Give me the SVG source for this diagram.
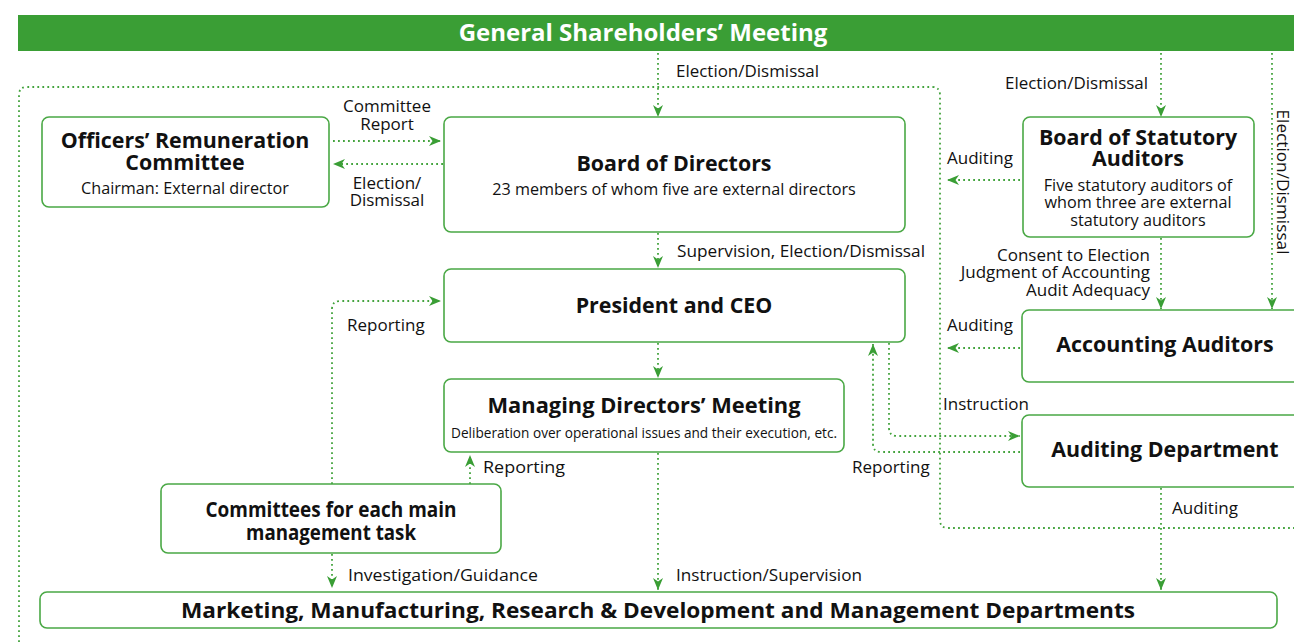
<svg xmlns="http://www.w3.org/2000/svg" width="1294" height="642" viewBox="0 0 1294 642">
<style>
.box{fill:#fff;stroke:#4aa845;stroke-width:1.6}
.dot{fill:none;stroke:#43a33d;stroke-width:1.8;stroke-dasharray:1.8 3.2}
.t{font-family:"Open Sans","DejaVu Sans",sans-serif;fill:#111}
.lb{font-size:17px}
.ti{font-size:21.4px;font-weight:bold}
.sub{font-size:16.2px;font-weight:normal}
.c{text-anchor:middle}
.e{text-anchor:end}
</style>
<defs>
<marker id="ah" viewBox="0 0 12 10" refX="12" refY="5" markerWidth="12" markerHeight="10" markerUnits="userSpaceOnUse" orient="auto">
<path d="M0,0 L12,5 L0,10 L3.5,5 Z" fill="#3a9e35"/>
</marker>
</defs>
<rect x="18" y="15" width="1276" height="36" fill="#3a9e35"/>
<text class="t c" x="643" y="41" style="font-size:24px;font-weight:bold;fill:#fff">General Shareholders’ Meeting</text>
<g id="connectors">
<path class="dot" d="M19,642 V95 Q19,87 27,87 H932 Q940,87 940,95 V520 Q940,528 948,528 H1294"/>
<path class="dot" d="M658,53 V117" marker-end="url(#ah)"/>
<path class="dot" d="M1161,53 V117" marker-end="url(#ah)"/>
<path class="dot" d="M1272,53 V309" marker-end="url(#ah)"/>
<path class="dot" d="M333,141 H441" marker-end="url(#ah)"/>
<path class="dot" d="M443,164 H333" marker-end="url(#ah)"/>
<path class="dot" d="M1020,180 H947" marker-end="url(#ah)"/>
<path class="dot" d="M658,233 V268" marker-end="url(#ah)"/>
<path class="dot" d="M1161,238 V309" marker-end="url(#ah)"/>
<path class="dot" d="M332,484 V309 Q332,301 340,301 H441" marker-end="url(#ah)"/>
<path class="dot" d="M1020,348 H947" marker-end="url(#ah)"/>
<path class="dot" d="M658,343 V378" marker-end="url(#ah)"/>
<path class="dot" d="M889,343 V428 Q889,436 897,436 H1020" marker-end="url(#ah)"/>
<path class="dot" d="M1020,452 H881 Q873,452 873,444 V344" marker-end="url(#ah)"/>
<path class="dot" d="M470,484 V455" marker-end="url(#ah)"/>
<path class="dot" d="M332,554 V588" marker-end="url(#ah)"/>
<path class="dot" d="M658,453 V590" marker-end="url(#ah)"/>
<path class="dot" d="M1161,488 V590" marker-end="url(#ah)"/>
</g>
<g id="labels">
<text class="t lb" x="676" y="77" textLength="143" lengthAdjust="spacingAndGlyphs">Election/Dismissal</text>
<text class="t lb e" x="1148" y="89" textLength="143" lengthAdjust="spacingAndGlyphs">Election/Dismissal</text>
<text class="t" transform="translate(1277,182) rotate(90)" text-anchor="middle" style="font-size:16.3px" textLength="145" lengthAdjust="spacingAndGlyphs">Election/Dismissal</text>
<text class="t lb c"><tspan x="387" y="112">Committee</tspan><tspan x="387" y="130">Report</tspan></text>
<text class="t lb c"><tspan x="387" y="189">Election/</tspan><tspan x="387" y="206">Dismissal</tspan></text>
<text class="t lb" x="947" y="164">Auditing</text>
<text class="t lb" x="677" y="257" textLength="248" lengthAdjust="spacingAndGlyphs">Supervision, Election/Dismissal</text>
<text class="t lb e"><tspan x="1150" y="261">Consent to Election</tspan><tspan x="1150" y="278">Judgment of Accounting</tspan><tspan x="1150" y="296">Audit Adequacy</tspan></text>
<text class="t lb" x="347" y="331">Reporting</text>
<text class="t lb" x="947" y="331">Auditing</text>
<text class="t lb" x="943" y="410">Instruction</text>
<text class="t lb" x="483" y="473" textLength="82" lengthAdjust="spacingAndGlyphs">Reporting</text>
<text class="t lb" x="852" y="473">Reporting</text>
<text class="t lb" x="1172" y="514">Auditing</text>
<text class="t lb" x="348" y="581" textLength="190" lengthAdjust="spacingAndGlyphs">Investigation/Guidance</text>
<text class="t lb" x="676" y="581" textLength="186" lengthAdjust="spacingAndGlyphs">Instruction/Supervision</text>
</g>
<g id="officers">
<rect class="box" x="42" y="117" width="287" height="90" rx="7"/>
<text class="t ti c"><tspan x="185" y="148">Officers’ Remuneration</tspan><tspan x="185" y="170">Committee</tspan><tspan class="sub" x="185" y="194">Chairman: External director</tspan></text>
</g>
<g id="board">
<rect class="box" x="444" y="117" width="461" height="115" rx="7"/>
<text class="t ti c"><tspan x="674" y="171">Board of Directors</tspan><tspan class="sub" x="674" y="195">23 members of whom five are external directors</tspan></text>
</g>
<g id="statutory">
<rect class="box" x="1023" y="117" width="231" height="120" rx="7"/>
<text class="t ti c"><tspan x="1138" y="145">Board of Statutory</tspan><tspan x="1138" y="166">Auditors</tspan><tspan class="sub" x="1138" y="191">Five statutory auditors of</tspan><tspan class="sub" x="1138" y="208">whom three are external</tspan><tspan class="sub" x="1138" y="226">statutory auditors</tspan></text>
</g>
<g id="president">
<rect class="box" x="444" y="269" width="461" height="73" rx="7"/>
<text class="t ti c" x="674" y="313">President and CEO</text>
</g>
<g id="accounting">
<rect class="box" x="1022" y="310" width="300" height="72" rx="7"/>
<text class="t ti c" x="1165" y="352">Accounting Auditors</text>
</g>
<g id="managing">
<rect class="box" x="444" y="379" width="400" height="73" rx="7"/>
<text class="t ti c" x="644" y="413" textLength="313" lengthAdjust="spacingAndGlyphs">Managing Directors’ Meeting</text>
<text class="t c" x="644" y="438" style="font-size:14.5px" textLength="386" lengthAdjust="spacingAndGlyphs">Deliberation over operational issues and their execution, etc.</text>
</g>
<g id="auditing-dept">
<rect class="box" x="1022" y="415" width="300" height="72" rx="7"/>
<text class="t ti c" x="1165" y="457">Auditing Department</text>
</g>
<g id="committees">
<rect class="box" x="161" y="484" width="340" height="69" rx="7"/>
<text class="t ti c"><tspan x="331" y="517" textLength="251" lengthAdjust="spacingAndGlyphs">Committees for each main</tspan><tspan x="331" y="540" textLength="170" lengthAdjust="spacingAndGlyphs">management task</tspan></text>
</g>
<g id="departments">
<rect class="box" x="40" y="592" width="1237" height="36" rx="7"/>
<text class="t ti c" x="658" y="618" textLength="954" lengthAdjust="spacingAndGlyphs">Marketing, Manufacturing, Research &amp; Development and Management Departments</text>
</g>
</svg>
